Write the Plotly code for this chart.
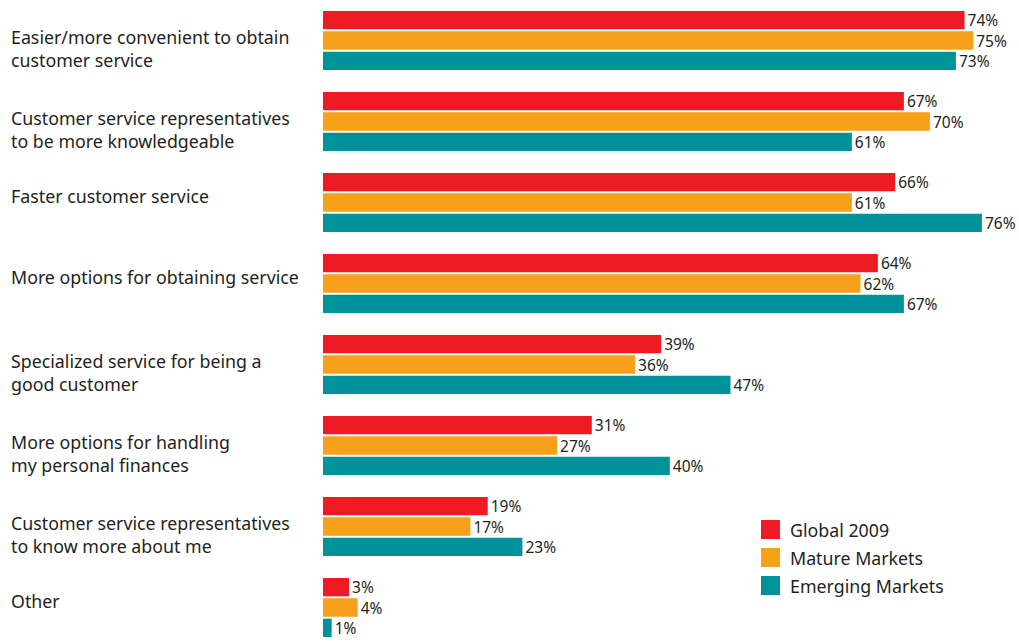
import plotly.graph_objects as go

categories = [
    "Easier/more convenient to obtain<br>customer service",
    "Customer service representatives<br>to be more knowledgeable",
    "Faster customer service",
    "More options for obtaining service",
    "Specialized service for being a<br>good customer",
    "More options for handling<br>my personal finances",
    "Customer service representatives<br>to know more about me",
    "Other",
]
series_names = ["Global 2009", "Mature Markets", "Emerging Markets"]
global_2009 = [74, 67, 66, 64, 39, 31, 19, 3]
mature_markets = [75, 70, 61, 62, 36, 27, 17, 4]
emerging_markets = [73, 61, 76, 67, 47, 40, 23, 1]
colors = ["#ED1C24", "#F7A11A", "#00929B"]

W, H = 1019, 643
L = 323
FONT = "Noto Sans"
TXT = "#231F20"

fig = go.Figure()
for name, vals, col in zip(series_names, [global_2009, mature_markets, emerging_markets], colors):
    fig.add_trace(go.Bar(
        y=list(range(len(categories))), x=vals, name=name, orientation="h",
        marker=dict(color=col, line=dict(width=0)),
        text=[f"{v}%" for v in vals], textposition="outside",
        textfont=dict(family=FONT, size=15.5, color=TXT),
        constraintext="none",
        cliponaxis=False, showlegend=False,
    ))

# category labels
for i, c in enumerate(categories):
    single = "<br>" not in c
    fig.add_annotation(
        x=(9 - L) / (W - L), xref="paper", xanchor="left",
        y=i - 0.215 - (0.04 if single else 0), yref="y", yanchor="top",
        text=c, align="left", showarrow=False,
        font=dict(family=FONT, size=17.8, color=TXT),
    )

# legend
def px_x(p):
    return (p - L) / (W - L)

def px_y(p):
    return 1 - p / H

for k, (name, col) in enumerate(zip(series_names, colors)):
    top = 520 + 28 * k
    fig.add_shape(type="rect", xref="paper", yref="paper",
                  x0=px_x(761), x1=px_x(780), y0=px_y(top + 19), y1=px_y(top),
                  fillcolor=col, line=dict(width=0))
    fig.add_annotation(x=px_x(788), xref="paper", xanchor="left",
                       y=px_y(top + 10), yref="paper", yanchor="middle",
                       text=name, showarrow=False,
                       font=dict(family=FONT, size=17.8, color=TXT))

fig.update_layout(
    width=W, height=H,
    margin=dict(l=L, r=0, t=0, b=0),
    paper_bgcolor="white", plot_bgcolor="white",
    barmode="group", bargap=0.247, bargroupgap=0.1,
    xaxis=dict(range=[0, (W - L) / 8.67], visible=False, fixedrange=True),
    yaxis=dict(range=[(H - 40.5) / 81, -0.5], visible=False, fixedrange=True),
    uniformtext=dict(mode=False),
)
fig.write_html("out.html")
